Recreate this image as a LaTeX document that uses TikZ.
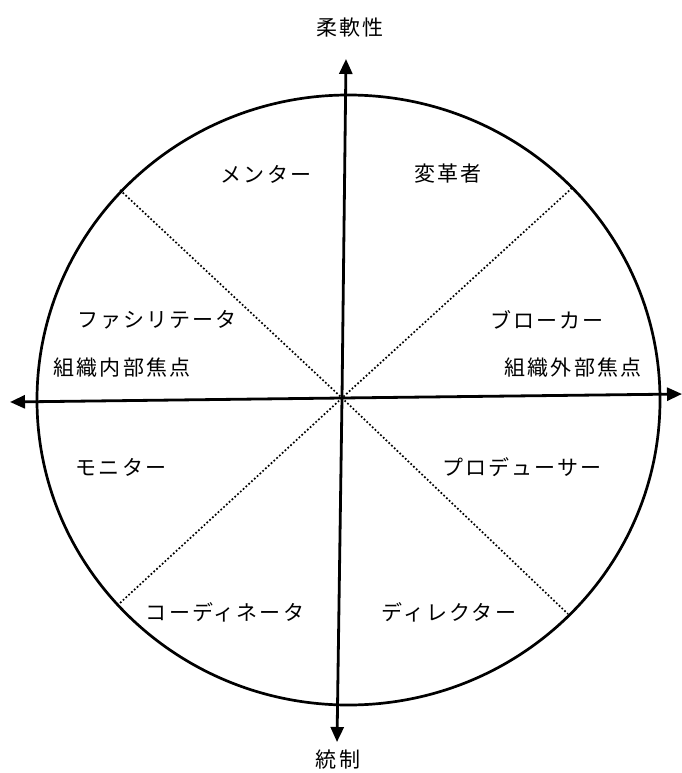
\documentclass[tikz,border=0pt]{standalone}
\usepackage{fontspec}
\setmainfont{Noto Sans CJK JP}[LetterSpace=10]
\usetikzlibrary{arrows.meta}
\begin{document}
\begin{tikzpicture}[x=1pt,y=-1pt,
  lbl/.style={font=\fontsize{21}{25}\selectfont, inner sep=0pt},
  axisline/.style={line width=2.8pt, -{Triangle[length=15pt,width=13pt]}},
  sepline/.style={line width=1.7pt, dash pattern=on 1.7pt off 2.1pt},
  rim/.style={line width=2.7pt}]
\useasboundingbox (0,0) rectangle (682,773);
% outer circle
\draw[rim] (348.5,400) ellipse [x radius=311.5pt, y radius=305pt];
% centre and rim points
\coordinate (c) at (342,398);
\coordinate (nw) at (120,190);
\coordinate (ne) at (572,188);
\coordinate (sw) at (120,603);
\coordinate (se) at (568,614);
\draw[sepline] (nw) -- (c) -- (se);
\draw[sepline] (ne) -- (c) -- (sw);
% axes
\coordinate (top) at (346,59);
\coordinate (bot) at (337,742);
\coordinate (lft) at (10,402);
\coordinate (rgt) at (682,394);
\draw[axisline] (c) -- (top);
\draw[axisline] (c) -- (bot);
\draw[axisline] (c) -- (lft);
\draw[axisline] (c) -- (rgt);
% labels
\node[lbl] (flex) at (350,28) {柔軟性};
\node[lbl] (ctrl) at (338,760) {統制};
\node[lbl] (mentor) at (266,174) {メンター};
\node[lbl] (innov) at (448,174) {変革者};
\node[lbl] (facil) at (157,320) {ファシリテータ};
\node[lbl] (internal) at (122,368) {組織内部焦点};
\node[lbl] (broker) at (547,320) {ブローカー};
\node[lbl] (external) at (573,368) {組織外部焦点};
\node[lbl] (monitor) at (121,467) {モニター};
\node[lbl] (producer) at (522,467) {プロデューサー};
\node[lbl] (coord) at (225,612) {コーディネータ};
\node[lbl] (director) at (449,612) {ディレクター};
\end{tikzpicture}
\end{document}
